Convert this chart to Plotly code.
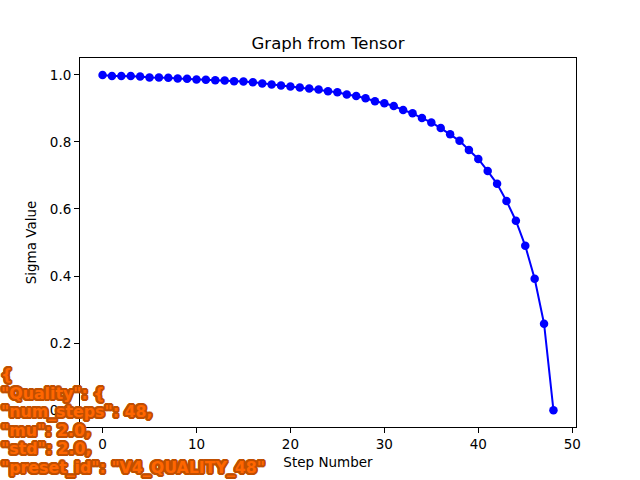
import plotly.graph_objects as go

# sigma schedule, one value per step
steps = list(range(49))
sigmas = [
    0.999, 0.996, 0.996, 0.996, 0.995, 0.992, 0.992, 0.991, 0.989, 0.988,
    0.986, 0.985, 0.984, 0.983, 0.981, 0.980, 0.978, 0.974, 0.971, 0.968,
    0.965, 0.962, 0.959, 0.956, 0.951, 0.948, 0.941, 0.937, 0.930, 0.921,
    0.915, 0.907, 0.895, 0.885, 0.871, 0.858, 0.841, 0.823, 0.803, 0.776,
    0.749, 0.713, 0.675, 0.624, 0.565, 0.490, 0.392, 0.258, 0.000,
]
x_ticks = [0, 10, 20, 30, 40, 50]
y_ticks = [0.0, 0.2, 0.4, 0.6, 0.8, 1.0]

overlay_lines = [
    '{',
    '"Quality": {',
    '"num_steps": 48,',
    '"mu": 2.0,',
    '"std": 2.0,',
    '"preset_id": "V4_QUALITY_48"',
]

font = "DejaVu Sans, sans-serif"

# plot area in page pixels (matplotlib default axes box)
PLOT_L, PLOT_T, PLOT_R, PLOT_B = 80, 58, 576, 427
PLOT_W, PLOT_H = PLOT_R - PLOT_L, PLOT_B - PLOT_T

fig = go.Figure()
fig.add_trace(go.Scatter(
    x=steps,
    y=sigmas,
    mode="lines+markers",
    line=dict(color="#0000ff", width=2),
    marker=dict(color="#0000ff", size=8.5),
    showlegend=False,
))

axis_common = dict(
    showgrid=False,
    zeroline=False,
    showline=True,
    linecolor="black",
    linewidth=1,
    mirror=True,
    ticks="outside",
    ticklen=5,
    tickwidth=1,
    tickcolor="black",
    automargin=False,
    tickfont=dict(family=font, size=13.5, color="black"),
)

fig.update_xaxes(
    range=[-2.4, 50.4],
    tickvals=x_ticks,
    title=dict(text="Step Number", font=dict(family=font, size=13.5, color="black"), standoff=6),
    **axis_common,
)
fig.update_yaxes(
    range=[-0.05, 1.05],
    tickvals=y_ticks,
    tickformat=".1f",
    title=dict(text="Sigma Value", font=dict(family=font, size=13.5, color="black"), standoff=10),
    **axis_common,
)

# thick dark-orange outline round the overlay text
outline = "#c04f00"
offsets = [(-2, 0), (2, 0), (0, -2), (0, 2), (-1, -1), (1, -1), (-1, 1), (1, 1),
           (-2, -1), (2, -1), (-2, 1), (2, 1), (-1, -2), (1, -2), (-1, 2), (1, 2)]
shadow = ", ".join(f"{dx}px {dy}px 0 {outline}" for dx, dy in offsets)

# one annotation per line so the line spacing matches (~18.6px)
first_baseline, line_step = 380, 18.6
for i, line in enumerate(overlay_lines):
    centre = first_baseline + i * line_step - 5.5
    fig.add_annotation(
        text=line,
        xref="paper", yref="paper",
        x=-(PLOT_L + 1) / PLOT_W, y=(PLOT_B - centre) / PLOT_H,
        xanchor="left", yanchor="middle",
        align="left",
        showarrow=False,
        font=dict(family=font, size=15.8, color="#ff6600", weight="bold", shadow=shadow),
    )

fig.update_layout(
    width=640,
    height=480,
    margin=dict(l=PLOT_L, r=640 - PLOT_R, t=PLOT_T, b=480 - PLOT_B),
    paper_bgcolor="white",
    plot_bgcolor="white",
    title=dict(
        text="Graph from Tensor",
        x=328 / 640, xanchor="center",
        y=1 - 43 / 480, yanchor="middle",
        font=dict(family=font, size=16.5, color="black"),
    ),
)

# drop the page's default body margin so the figure sits at the window corner
fig.write_html(
    "out.html",
    config={"displayModeBar": False},
    post_script="document.body.style.margin = '0';",
)
